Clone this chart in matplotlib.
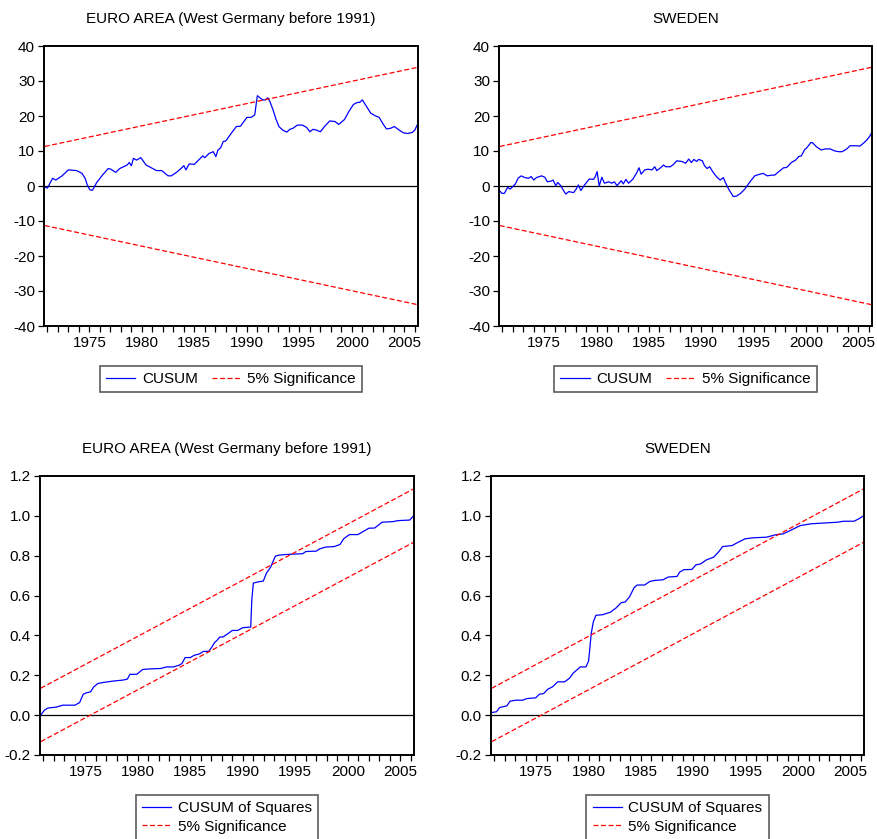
import matplotlib
matplotlib.use("Agg")
import matplotlib.pyplot as plt
from matplotlib.ticker import MultipleLocator, FormatStrFormatter
import numpy as np

plt.rcParams['font.family'] = ['Liberation Sans', 'DejaVu Sans']
plt.rcParams['font.size'] = 11
plt.rcParams['axes.unicode_minus'] = False

# ---- data ----
TITLE_EA = "EURO AREA (West Germany before 1991)"
TITLE_SE = "SWEDEN"

# CUSUM, Euro area
ea_cusum_years = [1970.75, 1971.0, 1971.5, 1971.8, 1972.4, 1973.0, 1973.8, 1974.3, 1974.6, 1974.8,
                  1975.05, 1975.3, 1975.7, 1976.3, 1976.8, 1977.05, 1977.5, 1977.9, 1978.6, 1978.8,
                  1979.0, 1979.2, 1979.5, 1979.9, 1980.4, 1980.9, 1981.4, 1981.9, 1982.5, 1982.8,
                  1983.3, 1983.8, 1984.0, 1984.2, 1984.5, 1985.0, 1985.4, 1985.8, 1986.0, 1986.4,
                  1986.8, 1987.05, 1987.25, 1987.5, 1987.75, 1988.0, 1988.5, 1989.0, 1989.4, 1990.0,
                  1990.4, 1990.75, 1991.0, 1991.5, 1991.75, 1992.0, 1992.2, 1992.5, 1992.75, 1993.05,
                  1993.4, 1993.8, 1994.1, 1994.4, 1994.8, 1995.3, 1995.7, 1996.0, 1996.3, 1996.6,
                  1997.0, 1997.4, 1997.9, 1998.4, 1998.75, 1999.3, 1999.7, 2000.15, 2000.55, 2000.75,
                  2001.0, 2001.4, 2001.8, 2002.2, 2002.6, 2003.0, 2003.3, 2003.7, 2004.05, 2004.4,
                  2004.9, 2005.3, 2005.75, 2006.0, 2006.25]
ea_cusum = [-0.3, -0.6, 2.2, 1.7, 2.9, 4.6, 4.4, 3.6, 2.2, 0.3,
            -1.1, -1.2, 1.0, 3.3, 5.0, 4.8, 3.9, 5.0, 6.0, 6.7,
            5.8, 7.9, 7.4, 8.1, 6.0, 5.2, 4.4, 4.4, 2.9, 2.9,
            3.9, 5.2, 5.8, 4.6, 6.3, 6.2, 7.4, 8.6, 8.1, 9.3,
            9.8, 8.4, 10.3, 10.9, 12.7, 12.9, 15.0, 17.0, 17.1, 19.6,
            19.6, 20.3, 25.8, 24.6, 24.6, 25.2, 24.1, 21.7, 19.3, 17.0,
            16.0, 15.4, 16.2, 16.5, 17.4, 17.4, 16.7, 15.5, 16.2, 16.0,
            15.5, 17.0, 18.6, 18.4, 17.6, 19.0, 21.2, 23.3, 23.9, 23.9,
            24.6, 22.7, 20.8, 20.1, 19.6, 17.6, 16.3, 16.5, 17.0, 16.2,
            15.2, 15.0, 15.3, 16.0, 17.6]

# CUSUM, Sweden
se_cusum_years = [1970.75, 1970.95, 1971.2, 1971.5, 1971.75, 1972.05, 1972.25, 1972.5, 1972.8, 1973.15,
                  1973.5, 1973.75, 1974.0, 1974.25, 1974.75, 1975.05, 1975.3, 1975.65, 1975.85, 1976.1,
                  1976.3, 1976.6, 1976.8, 1977.05, 1977.35, 1977.8, 1978.05, 1978.25, 1978.5, 1978.85,
                  1979.3, 1979.7, 1979.85, 1980.05, 1980.25, 1980.5, 1980.75, 1981.15, 1981.45, 1981.7,
                  1981.95, 1982.35, 1982.55, 1982.8, 1983.05, 1983.45, 1983.8, 1984.05, 1984.25, 1984.6,
                  1984.9, 1985.3, 1985.55, 1985.75, 1986.1, 1986.4, 1986.6, 1987.05, 1987.35, 1987.65,
                  1988.15, 1988.5, 1988.8, 1989.05, 1989.3, 1989.55, 1989.75, 1990.1, 1990.3, 1990.55,
                  1990.8, 1991.15, 1991.5, 1991.8, 1992.1, 1992.3, 1992.65, 1993.05, 1993.35, 1993.75,
                  1994.15, 1994.65, 1995.1, 1995.5, 1995.9, 1996.3, 1996.7, 1997.0, 1997.4, 1997.85,
                  1998.15, 1998.6, 1999.0, 1999.3, 1999.55, 1999.85, 2000.1, 2000.45, 2000.6, 2001.0,
                  2001.45, 2001.85, 2002.3, 2002.75, 2003.15, 2003.45, 2003.9, 2004.2, 2004.75, 2005.15,
                  2005.55, 2005.85, 2006.1, 2006.25]
se_cusum = [-1.4, -2.1, -2.1, -0.4, -0.9, 0.0, 0.6, 2.2, 2.9, 2.4,
            2.2, 2.7, 1.7, 2.4, 2.9, 2.5, 1.2, 1.4, 1.7, 0.1,
            1.0, 0.0, -1.1, -2.3, -1.6, -1.9, -0.9, 0.3, -1.3, 0.3,
            2.0, 1.9, 2.5, 4.1, 0.0, 2.5, 0.8, 1.2, 0.8, 1.2,
            0.1, 1.5, 0.6, 1.9, 0.8, 1.9, 3.6, 5.2, 3.4, 4.6,
            4.8, 4.6, 5.5, 4.4, 5.2, 6.0, 5.5, 5.5, 6.2, 7.2,
            7.0, 6.5, 7.7, 6.7, 7.6, 7.0, 7.6, 7.2, 5.8, 5.0,
            5.5, 3.8, 2.5, 1.7, 2.4, 1.0, -1.1, -3.0, -2.9, -2.1,
            -0.9, 1.2, 2.9, 3.3, 3.6, 2.9, 3.1, 3.1, 4.1, 5.2,
            5.3, 6.7, 7.4, 8.4, 8.6, 10.3, 11.0, 12.4, 12.4, 11.2,
            10.3, 10.6, 10.6, 10.0, 9.8, 9.8, 10.6, 11.5, 11.5, 11.4,
            12.4, 13.3, 14.3, 15.1]

# CUSUM of squares, Euro area
ea_sq_years = [1970.75, 1971.1, 1971.45, 1972.2, 1972.85, 1974.0, 1974.45, 1974.8, 1975.1, 1975.5,
               1975.8, 1976.2, 1976.7, 1977.65, 1978.6, 1979.0, 1979.25, 1979.9, 1980.45, 1981.15,
               1982.15, 1982.75, 1983.4, 1983.95, 1984.2, 1984.5, 1985.0, 1985.35, 1985.85, 1986.25,
               1986.75, 1987.05, 1987.3, 1987.55, 1987.8, 1988.1, 1988.5, 1989.0, 1989.5, 1990.0,
               1990.75, 1990.85, 1991.0, 1991.4, 1991.95, 1992.25, 1992.65, 1992.85, 1993.1, 1993.45,
               1994.1, 1994.75, 1995.7, 1996.0, 1997.0, 1997.3, 1997.85, 1998.7, 1999.25, 1999.6,
               2000.15, 2000.95, 2001.35, 2002.0, 2002.55, 2002.85, 2003.25, 2004.3, 2004.75, 2005.9,
               2006.25]
ea_sq = [0.0, 0.025, 0.036, 0.04, 0.05, 0.05, 0.063, 0.105, 0.112, 0.117,
         0.142, 0.159, 0.164, 0.171, 0.176, 0.181, 0.205, 0.205, 0.229, 0.232,
         0.234, 0.242, 0.242, 0.251, 0.259, 0.289, 0.289, 0.300, 0.307, 0.320,
         0.320, 0.342, 0.364, 0.376, 0.392, 0.392, 0.406, 0.425, 0.425, 0.439,
         0.442, 0.576, 0.663, 0.668, 0.673, 0.713, 0.743, 0.768, 0.798, 0.803,
         0.806, 0.808, 0.810, 0.821, 0.823, 0.834, 0.843, 0.846, 0.856, 0.885,
         0.906, 0.906, 0.918, 0.938, 0.939, 0.951, 0.968, 0.971, 0.976, 0.979,
         1.0]

# CUSUM of squares, Sweden
se_sq_years = [1970.75, 1971.2, 1971.5, 1972.2, 1972.5, 1973.05, 1973.7, 1974.1, 1974.95, 1975.3,
               1975.7, 1976.1, 1976.55, 1977.05, 1977.7, 1978.15, 1978.55, 1978.95, 1979.2, 1979.75,
               1980.0, 1980.1, 1980.25, 1980.45, 1980.7, 1981.35, 1982.1, 1982.65, 1983.1, 1983.5,
               1983.9, 1984.35, 1984.65, 1985.35, 1985.85, 1986.3, 1987.1, 1987.6, 1988.45, 1988.7,
               1989.1, 1989.85, 1990.25, 1990.7, 1991.25, 1991.95, 1992.4, 1992.8, 1993.7, 1994.3,
               1994.95, 1995.75, 1997.0, 1997.85, 1998.6, 1999.4, 2000.2, 2001.2, 2002.15, 2003.75,
               2004.35, 2005.35, 2005.8, 2006.25]
se_sq = [0.013, 0.017, 0.038, 0.047, 0.070, 0.075, 0.075, 0.083, 0.087, 0.105,
         0.108, 0.130, 0.142, 0.167, 0.167, 0.184, 0.212, 0.230, 0.242, 0.242,
         0.272, 0.325, 0.409, 0.468, 0.501, 0.504, 0.517, 0.539, 0.564, 0.568,
         0.593, 0.640, 0.653, 0.653, 0.671, 0.676, 0.679, 0.693, 0.696, 0.718,
         0.730, 0.731, 0.754, 0.759, 0.779, 0.793, 0.818, 0.846, 0.851, 0.868,
         0.885, 0.890, 0.893, 0.905, 0.910, 0.930, 0.951, 0.960, 0.963, 0.968,
         0.973, 0.973, 0.985, 1.0]

# 5% significance bands (straight lines between first and last observation)
band_years = [1970.75, 2006.25]
cusum_upper = [11.3, 33.9]
cusum_lower = [-11.3, -33.9]
sq_upper = [0.135, 1.135]
sq_lower = [-0.133, 0.867]

BLUE = '#0000ff'
RED = '#ff0000'
DASH = (0, (4, 2))

W, H = 877, 839
fig = plt.figure(figsize=(W / 100, H / 100), dpi=100)


def make_axes(left, top, right, bottom):
    return fig.add_axes([left / W, 1 - bottom / H, (right - left) / W, (bottom - top) / H])


def style(ax, title):
    ax.set_xlim(1970.68, 2006.3)
    ax.xaxis.set_major_locator(MultipleLocator(5))
    ax.xaxis.set_minor_locator(MultipleLocator(1))
    ax.tick_params(axis='both', which='both', direction='out', length=4.5, width=0.9,
                   top=False, right=False, labelsize=11, colors='black')
    ax.tick_params(axis='x', which='both', pad=3)
    ax.tick_params(axis='y', pad=2)
    for s in ax.spines.values():
        s.set_linewidth(1.4)
    ax.axhline(0, color='black', lw=0.9, zorder=1)
    h = ax.get_position().height * H
    ax.text(0.5, 1 + 27 / h, title, transform=ax.transAxes, ha='center', va='center',
            fontsize=11)


def add_legend(ax, labels, ncol):
    h = ax.get_position().height * H
    leg = ax.legend(labels, loc='upper center', bbox_to_anchor=(0.5, -40 / h), ncol=ncol,
                    frameon=True, fancybox=False, borderaxespad=0, fontsize=11,
                    handlelength=1.9, handletextpad=0.45, columnspacing=0.9,
                    borderpad=0.4, labelspacing=0.3)
    leg.get_frame().set_edgecolor('#333333')
    leg.get_frame().set_linewidth(1.2)


# top-left: CUSUM euro area
ax1 = make_axes(44, 46, 418, 326)
ax1.plot(ea_cusum_years, ea_cusum, color=BLUE, lw=0.9)
ax1.plot(band_years, cusum_upper, color=RED, lw=0.9, ls=DASH)
ax1.plot(band_years, cusum_lower, color=RED, lw=0.9, ls=DASH)
ax1.set_ylim(-40, 40)
ax1.yaxis.set_major_locator(MultipleLocator(10))
style(ax1, TITLE_EA)
add_legend(ax1, ['CUSUM', '5% Significance'], 2)

# top-right: CUSUM sweden
ax2 = make_axes(499, 46, 872, 326)
ax2.plot(se_cusum_years, se_cusum, color=BLUE, lw=0.9)
ax2.plot(band_years, cusum_upper, color=RED, lw=0.9, ls=DASH)
ax2.plot(band_years, cusum_lower, color=RED, lw=0.9, ls=DASH)
ax2.set_ylim(-40, 40)
ax2.yaxis.set_major_locator(MultipleLocator(10))
style(ax2, TITLE_SE)
add_legend(ax2, ['CUSUM', '5% Significance'], 2)

# bottom-left: CUSUM of squares euro area
ax3 = make_axes(40, 476, 414, 755)
ax3.plot(ea_sq_years, ea_sq, color=BLUE, lw=0.9)
ax3.plot(band_years, sq_upper, color=RED, lw=0.9, ls=DASH)
ax3.plot(band_years, sq_lower, color=RED, lw=0.9, ls=DASH)
ax3.set_ylim(-0.2, 1.2)
ax3.yaxis.set_major_locator(MultipleLocator(0.2))
ax3.yaxis.set_major_formatter(FormatStrFormatter('%.1f'))
style(ax3, TITLE_EA)
add_legend(ax3, ['CUSUM of Squares', '5% Significance'], 1)

# bottom-right: CUSUM of squares sweden
ax4 = make_axes(491, 476, 864, 755)
ax4.plot(se_sq_years, se_sq, color=BLUE, lw=0.9)
ax4.plot(band_years, sq_upper, color=RED, lw=0.9, ls=DASH)
ax4.plot(band_years, sq_lower, color=RED, lw=0.9, ls=DASH)
ax4.set_ylim(-0.2, 1.2)
ax4.yaxis.set_major_locator(MultipleLocator(0.2))
ax4.yaxis.set_major_formatter(FormatStrFormatter('%.1f'))
style(ax4, TITLE_SE)
add_legend(ax4, ['CUSUM of Squares', '5% Significance'], 1)

fig.savefig('out.png', dpi=100)
